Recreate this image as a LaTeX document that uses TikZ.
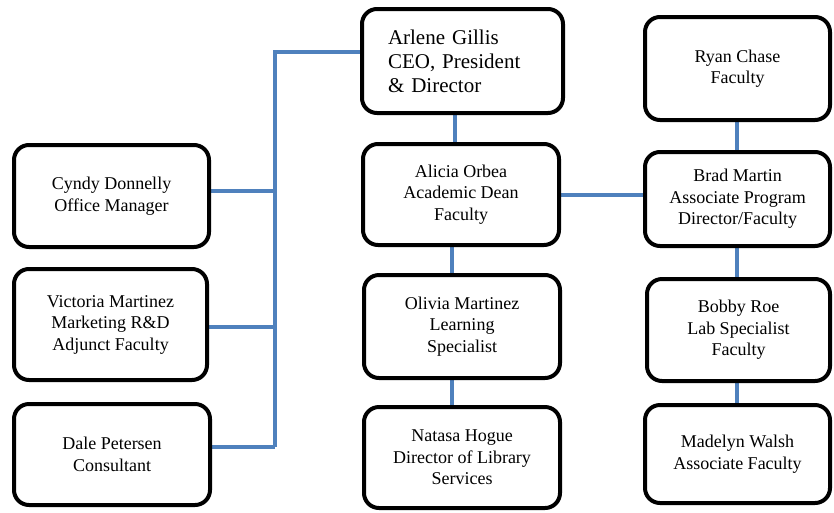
\documentclass[tikz,border=0pt]{standalone}
\usepackage{fontspec}
\setmainfont{Liberation Serif}
\usepackage{xcolor}
\usetikzlibrary{backgrounds}
\definecolor{linkblue}{RGB}{79,129,189}

\begin{document}
\begin{tikzpicture}[x=1pt,y=-1pt,
  person/.style={draw, line width=4pt, rounded corners=15pt, fill=white,
    align=center, inner sep=2pt, font=\fontsize{18}{21.5}\selectfont},
  link/.style={draw=linkblue, line width=4pt}]
\useasboundingbox (0,0) rectangle (834,512);

\node[person, minimum width=195pt, minimum height=102pt] (cyndy) at (111.5,196) {Cyndy Donnelly\\Office Manager};
\node[person, minimum width=193pt, minimum height=111pt] (victoria) at (110.5,324.5) {Victoria Martinez\\Marketing R\&D\\Adjunct Faculty};
\node[person, minimum width=196pt, minimum height=101pt] (dale) at (112,454.5) {Dale Petersen\\Consultant};

\node[person, align=left, text width=149pt, inner xsep=26pt, minimum height=104pt,
  font=\fontsize{21}{24}\selectfont] (arlene) at (462.5,61) {Arlene Gillis\\CEO, President\\\& Director};
\node[person, minimum width=196pt, minimum height=101pt] (alicia) at (461,194.5) {Alicia Orbea\\Academic Dean\\Faculty};
\node[person, minimum width=196pt, minimum height=103pt] (olivia) at (462,326.5) {Olivia Martinez\\Learning\\Specialist};
\node[person, minimum width=196pt, minimum height=101pt] (natasa) at (462,457.5) {Natasa Hogue\\Director of Library\\Services};

\node[person, minimum width=185pt, minimum height=103pt] (ryan) at (737.5,68.5) {Ryan Chase\\Faculty};
\node[person, minimum width=185pt, minimum height=94pt] (brad) at (737.5,199) {Brad Martin\\Associate Program\\Director/Faculty};
\node[person, minimum width=183pt, minimum height=102pt] (bobby) at (738.5,330) {Bobby Roe\\Lab Specialist\\Faculty};
\node[person, minimum width=185pt, minimum height=98pt] (madelyn) at (737.5,454) {Madelyn Walsh\\Associate Faculty};

\coordinate (bus) at (275,52);
\coordinate (cyndytap) at (275,191);
\coordinate (victoriatap) at (275,327);
\coordinate (daletap) at (275,447);
\coordinate (ceodean) at (455,0);
\coordinate (midcol) at (452,0);
\coordinate (rightcol) at (737,0);

\begin{scope}[on background layer]
\draw[link] (bus -| arlene.west) -- (bus) -- (daletap);
\draw[link] (cyndytap -| cyndy.east) -- (cyndytap);
\draw[link] (victoriatap -| victoria.east) -- (victoriatap);
\draw[link] (daletap -| dale.east) -- (daletap);

\draw[link] (ceodean |- arlene.south) -- (ceodean |- alicia.north);
\draw[link] (midcol |- alicia.south) -- (midcol |- olivia.north);
\draw[link] (midcol |- olivia.south) -- (midcol |- natasa.north);
\draw[link] (alicia.east) -- (alicia.east -| brad.west);

\draw[link] (rightcol |- ryan.south) -- (rightcol |- brad.north);
\draw[link] (rightcol |- brad.south) -- (rightcol |- bobby.north);
\draw[link] (rightcol |- bobby.south) -- (rightcol |- madelyn.north);
\end{scope}
\end{tikzpicture}
\end{document}
